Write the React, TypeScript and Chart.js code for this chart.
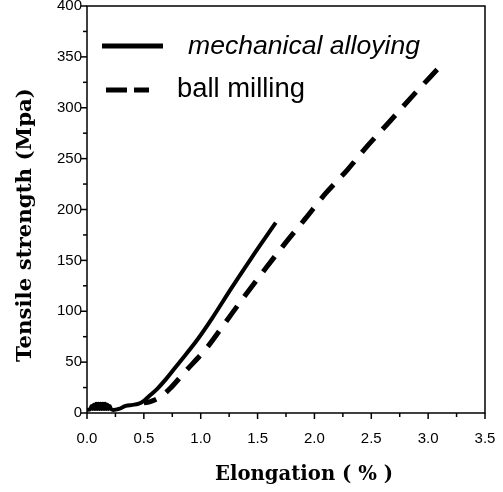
import React, { useEffect, useRef } from "react";
import { Chart, registerables } from "chart.js";

Chart.register(...registerables);

// Mechanical alloying (solid curve); the noisy block near the origin is read as a tight zig-zag
const maX = [0, 0.03, 0.04, 0.05, 0.06, 0.07, 0.08, 0.09, 0.1, 0.11, 0.12, 0.13, 0.14, 0.15, 0.16, 0.17, 0.18, 0.19, 0.2, 0.21, 0.23, 0.28, 0.34, 0.4, 0.45, 0.5, 0.55, 0.62, 0.7, 0.8, 0.97, 1.1, 1.26, 1.45, 1.66];
const maY = [3, 4, 7, 4, 8, 4, 9, 4, 9, 4, 9, 4, 9, 4, 9, 4, 8, 4, 7, 4, 3, 4, 7, 8, 9, 12, 17, 24, 34, 48, 72, 93, 121, 153, 187];

// Ball milling (dashed curve)
const bmX = [0.5, 0.55, 0.6, 0.65, 0.73, 0.85, 1.06, 1.23, 1.38, 1.55, 1.73, 1.92, 2.1, 2.29, 2.47, 2.65, 2.85, 3.1];
const bmY = [10, 11, 13, 16, 24, 39, 65, 91, 114, 139, 165, 191, 216, 239, 263, 285, 310, 340];

const seriesNames = ["mechanical alloying", "ball milling"];
const xTitle = "Elongation ( % )";
const yTitle = "Tensile strength (Mpa)";

const xMin = 0, xMax = 3.5, xMajor = 0.5, xMinor = 0.25;
const yMin = 0, yMax = 400, yMajor = 50, yMinor = 25;

function fitFont(ctx: any, text: string, style: string, family: string, target: number, base: number) {
  ctx.font = `${style} ${base}px ${family}`;
  const w = ctx.measureText(text).width;
  const size = (base * target) / w;
  ctx.font = `${style} ${size.toFixed(2)}px ${family}`;
}

const serif = "'DejaVu Serif', 'Liberation Serif', serif";
const sans = "'Liberation Sans', Arial, sans-serif";

const decorPlugin = {
  id: "decor",
  afterDraw(chart: any) {
    const ctx = chart.ctx;
    const a = chart.chartArea;
    const xs = chart.scales.x;
    const ys = chart.scales.y;
    ctx.save();
    ctx.strokeStyle = "#000";
    ctx.lineWidth = 1.5;
    ctx.strokeRect(a.left, a.top, a.right - a.left, a.bottom - a.top);
    // x ticks
    for (let v = xMin; v <= xMax + 1e-9; v += xMinor) {
      const px = xs.getPixelForValue(v);
      const major = Math.abs(v / xMajor - Math.round(v / xMajor)) < 1e-6;
      ctx.beginPath();
      ctx.moveTo(px, a.bottom);
      ctx.lineTo(px, a.bottom + (major ? 6 : 4));
      ctx.stroke();
    }
    // y ticks
    for (let v = yMin; v <= yMax + 1e-9; v += yMinor) {
      const py = ys.getPixelForValue(v);
      const major = Math.abs(v / yMajor - Math.round(v / yMajor)) < 1e-6;
      ctx.beginPath();
      ctx.moveTo(a.left, py);
      ctx.lineTo(a.left - (major ? 6 : 4), py);
      ctx.stroke();
    }
    // axis titles
    ctx.fillStyle = "#000";
    ctx.textAlign = "center";
    ctx.textBaseline = "middle";
    fitFont(ctx, xTitle, "bold", serif, 178, 20);
    ctx.fillText(xTitle, 304, 475);
    ctx.save();
    ctx.translate(25, 225);
    ctx.rotate(-Math.PI / 2);
    fitFont(ctx, yTitle, "bold", serif, 274, 20);
    ctx.fillText(yTitle, 0, 0);
    ctx.restore();
    // legend
    const ds = chart.data.datasets;
    ctx.lineCap = "butt";
    ctx.lineWidth = 5;
    ctx.setLineDash([]);
    ctx.beginPath();
    ctx.moveTo(102, 46);
    ctx.lineTo(163, 46);
    ctx.stroke();
    ctx.setLineDash([21, 7]);
    ctx.beginPath();
    ctx.moveTo(106, 90);
    ctx.lineTo(149, 90);
    ctx.stroke();
    ctx.setLineDash([]);
    ctx.textAlign = "left";
    fitFont(ctx, ds[0].label, "italic", sans, 232, 24);
    ctx.fillText(ds[0].label, 188, 47);
    fitFont(ctx, ds[1].label, "normal", sans, 128, 24);
    ctx.fillText(ds[1].label, 177, 89);
    ctx.restore();
  },
};

export default function App() {
  const ref = useRef<HTMLCanvasElement>(null);
  useEffect(() => {
    if (!ref.current) return;
    const chart = new Chart(ref.current, {
      type: "line",
      data: {
        datasets: [
          {
            label: seriesNames[0],
            data: maX.map((x, i) => ({ x, y: maY[i] })),
            borderColor: "#000",
            borderWidth: 4,
            pointRadius: 0,
            cubicInterpolationMode: "monotone",
            fill: false,
          },
          {
            label: seriesNames[1],
            data: bmX.map((x, i) => ({ x, y: bmY[i] })),
            borderColor: "#000",
            borderWidth: 5,
            borderDash: [19, 12],
            borderDashOffset: 6,
            pointRadius: 0,
            cubicInterpolationMode: "monotone",
            fill: false,
          },
        ],
      },
      options: {
        animation: false,
        responsive: true,
        maintainAspectRatio: false,
        layout: { padding: { left: 0, right: 18, top: 6, bottom: 0 } },
        plugins: { legend: { display: false }, tooltip: { enabled: false } },
        scales: {
          x: {
            type: "linear",
            min: xMin,
            max: xMax,
            grid: { display: false, tickLength: 0 },
            border: { display: false },
            afterFit: (s: any) => {
              s.height = 79;
              s.paddingLeft = 0;
              s.paddingRight = 0;
            },
            ticks: {
              stepSize: xMajor,
              padding: 17,
              color: "#000",
              font: { size: 15, family: sans },
              callback: (v: any) => Number(v).toFixed(1),
              maxRotation: 0,
            },
          },
          y: {
            type: "linear",
            min: yMin,
            max: yMax,
            grid: { display: false, tickLength: 0 },
            border: { display: false },
            afterFit: (s: any) => {
              s.width = 87;
              s.paddingTop = 0;
              s.paddingBottom = 0;
            },
            ticks: {
              stepSize: yMajor,
              padding: 5,
              color: "#000",
              font: { size: 15, family: sans },
            },
          },
        },
      },
      plugins: [decorPlugin],
    });
    return () => chart.destroy();
  }, []);
  return (
    <div style={{ position: "fixed", left: 0, top: 0, width: 503, height: 492, background: "#fff" }}>
      <canvas ref={ref} />
    </div>
  );
}
